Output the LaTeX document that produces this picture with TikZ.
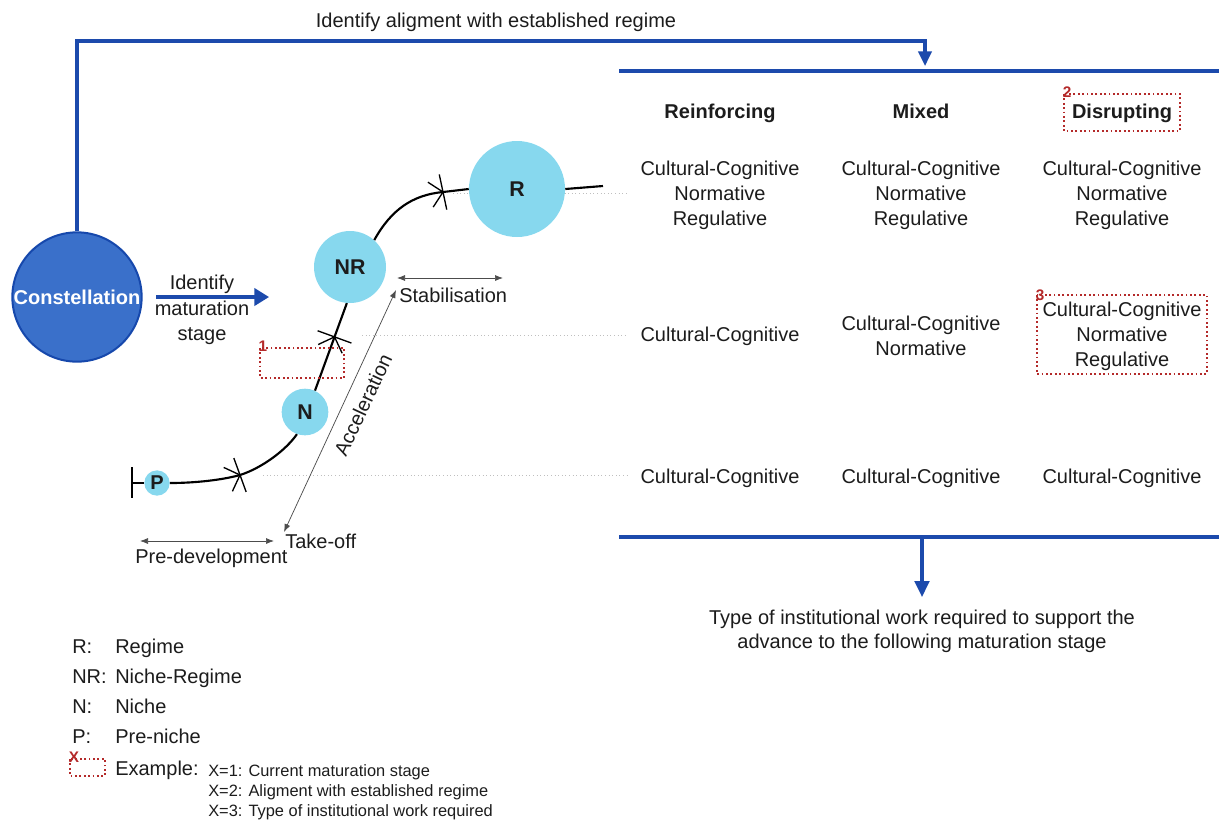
\documentclass[tikz,border=0pt]{standalone}
\usepackage{fontspec}
\setmainfont{Liberation Sans}
\usetikzlibrary{arrows.meta,calc}

\definecolor{linkblue}{RGB}{28,74,172}
\definecolor{constfill}{RGB}{58,112,202}
\definecolor{constedge}{RGB}{22,72,172}
\definecolor{stagefill}{RGB}{135,216,238}
\definecolor{exred}{RGB}{180,42,42}
\definecolor{ink}{RGB}{28,28,28}

% crossbar plus open chevron on the maturation curve; #2 = tangent angle
\newcommand\stagetick[2]{%
  \draw[tickline] ($(#1)+({-(#2)+90}:18)$) -- ($(#1)+({-(#2)-90}:18)$);
  \draw[tickline] ($(#1)+({-(#2)-135}:18)$) -- (#1) -- ($(#1)+({-(#2)-225}:18)$);
}

\begin{document}
\begin{tikzpicture}[x=0.75pt,y=-0.75pt,
  every node/.style={inner sep=0pt, text=ink},
  txt/.style={font=\fontsize{15}{18.75}\selectfont, anchor=base},
  txtw/.style={font=\fontsize{15}{18.75}\selectfont, anchor=base west},
  hdr/.style={font=\fontsize{15}{18.75}\selectfont\bfseries, anchor=base},
  small/.style={font=\fontsize{12.3}{14}\selectfont, anchor=base west},
  bluelink/.style={draw=linkblue, line width=2.3pt},
  bluetip/.style={-{Triangle[length=11pt,width=10pt]}},
  stage/.style={circle, fill=stagefill, font=\fontsize{16}{18}\selectfont\bfseries},
  curve/.style={draw=black, line width=1.6pt},
  tickline/.style={draw=black, line width=1pt},
  guide/.style={draw=gray!50, dotted, line width=0.7pt},
  span/.style={draw=gray!60!black, line width=0.55pt,
    {Latex[length=6pt,width=4.5pt]}-{Latex[length=6pt,width=4.5pt]}},
  exbox/.style={draw=exred, dotted, line width=1.3pt},
  exnum/.style={text=exred, font=\fontsize{11.5}{13}\selectfont\bfseries}
]
\useasboundingbox (0,0) rectangle (1219,819);

% ---------- maturation curve: guide lines behind ----------
\coordinate (t1) at (240,475);
\coordinate (t3) at (443,192);
\draw[guide] (263,475) -- (628,475);
\draw[guide] (362,335) -- (628,335);
\draw[guide] (453,193) -- (628,193);

% ---------- stages ----------
\node[stage, minimum size=72pt] (R)  at (517,189) {R};
\node[stage, minimum size=54pt] (NR) at (350,267) {NR};
\node[stage, minimum size=35pt] (N) at (305,412) {N};
\node[stage, minimum size=19pt, font=\fontsize{15}{18}\selectfont\bfseries] (P) at (157,483) {P};

\coordinate (pstart) at (132,483);
\draw[tickline, line width=1.2pt] (132,467) -- (132,498);
\draw[curve] (pstart) -- (P.west);
\draw[curve] (P.east) .. controls (195,483) and (222,480) .. (t1)
  .. controls (262,468) and (286,450) .. (N.-110);
\draw[curve] (N.65) -- (NR.-95);
\coordinate (t2) at ($(N.65)!0.614!(NR.-95)$);
\draw[curve] (NR.48) .. controls (391,210) and (412,195) .. (t3)
  .. controls (452,191) and (460,190) .. (R.west);
\coordinate (rend) at (603,186);
\draw[curve] (R.east) -- (rend);

\stagetick{t1}{20}
\stagetick{t2}{70}
\stagetick{t3}{12}

% ---------- phase spans ----------
\coordinate (pd1) at (140,541);
\coordinate (pd2) at (274,541);
\coordinate (ac1) at (284,532);
\coordinate (ac2) at (396,290);
\coordinate (st1) at (397,278);
\coordinate (st2) at (503,278);
\draw[span] (pd1) -- (pd2);
\draw[span] (ac1) -- (ac2);
\draw[span] (st1) -- (st2);
\node[txtw] (lpre) at (135,563) {Pre-development};
\node[txtw] (ltake) at (285,548) {Take-off};
\node[txtw] (lstab) at (399,302) {Stabilisation};
\node[font=\fontsize{15}{18}\selectfont, rotate=65] (lacc) at (363,405) {Acceleration};

% example box 1 on the curve
\draw[exbox] (260,348) rectangle (344,378);
\node[exnum] (n1) at (263,346) {1};

% ---------- constellation ----------
\node[circle, fill=constfill, draw=constedge, line width=1.5pt, minimum size=97pt,
  text=white, font=\fontsize{15}{18}\selectfont\bfseries] (cons) at (77,297) {Constellation};
\coordinate (mat) at (269,297);
\draw[bluelink, -{Triangle[length=11pt,width=13pt]}] ([xshift=10pt]cons.east) -- (mat);
\node[txt] (id1) at (202,289) {Identify};
\node[txt] (id2) at (202,315) {maturation};
\node[txt] (id3) at (202,340) {stage};

% ---------- alignment connector ----------
\node[txt] (title) at (496,27) {Identify aligment with established regime};
\coordinate (bend) at (925,41);
\coordinate (alignin) at (925,66);
\draw[bluelink, bluetip] (cons.north) |- (bend) -- (alignin);

% ---------- table ----------
\coordinate (tabTL) at (619,71);
\coordinate (tabTR) at (1219,71);
\coordinate (tabBL) at (619,537);
\coordinate (tabBR) at (1219,537);
\coordinate (tabmid) at (922,537);
\coordinate (result) at (922,597);
\draw[bluelink] (tabTL) -- (tabTR);
\draw[bluelink] (tabBL) -- (tabBR);
\draw[bluelink, -{Triangle[length=12pt,width=11pt]}] (tabmid) -- (result);

\node[hdr] (h1) at (720,118) {Reinforcing};
\node[hdr] (h2) at (921,118) {Mixed};
\node[hdr] (h3) at (1122,118) {Disrupting};

% regime row
\foreach \c/\x in {a/720,b/921,c/1122}{
  \node[txt] (r1\c1) at (\x,175) {Cultural-Cognitive};
  \node[txt] (r1\c2) at (\x,200) {Normative};
  \node[txt] (r1\c3) at (\x,225) {Regulative};
}
% niche-regime row
\node[txt] (r2a1) at (720,341) {Cultural-Cognitive};
\node[txt] (r2b1) at (921,330) {Cultural-Cognitive};
\node[txt] (r2b2) at (921,355) {Normative};
\node[txt] (r2c1) at (1122,316) {Cultural-Cognitive};
\node[txt] (r2c2) at (1122,341) {Normative};
\node[txt] (r2c3) at (1122,366) {Regulative};
% niche row
\node[txt] (r3a1) at (720,483) {Cultural-Cognitive};
\node[txt] (r3b1) at (921,483) {Cultural-Cognitive};
\node[txt] (r3c1) at (1122,483) {Cultural-Cognitive};

% example boxes 2 and 3
\draw[exbox] (1064,94) rectangle (1180,131);
\node[exnum] (n2) at (1067,92) {2};
\draw[exbox] (1037,295) rectangle (1207,374);
\node[exnum] (n3) at (1040,295) {3};

\node[txt] (res1) at (922,624) {Type of institutional work required to support the};
\node[txt] (res2) at (922,648) {advance to the following maturation stage};

% ---------- legend ----------
\node[txtw] (kR)  at (72,653) {R:};
\node[txtw] (vR)  at (115,653) {Regime};
\node[txtw] (kNR) at (72,683) {NR:};
\node[txtw] (vNR) at (115,683) {Niche-Regime};
\node[txtw] (kN)  at (72,713) {N:};
\node[txtw] (vN)  at (115,713) {Niche};
\node[txtw] (kP)  at (72,743) {P:};
\node[txtw] (vP)  at (115,743) {Pre-niche};
\draw[exbox] (70,759) rectangle (105,776);
\node[exnum] (kX) at (74,757) {X};
\node[txtw] (vX) at (115,775) {Example:};
\node[small] (x1) at (208,776) {X=1: Current maturation stage};
\node[small] (x2) at (208,796) {X=2: Aligment with established regime};
\node[small] (x3) at (208,816) {X=3: Type of institutional work required};
\end{tikzpicture}
\end{document}
